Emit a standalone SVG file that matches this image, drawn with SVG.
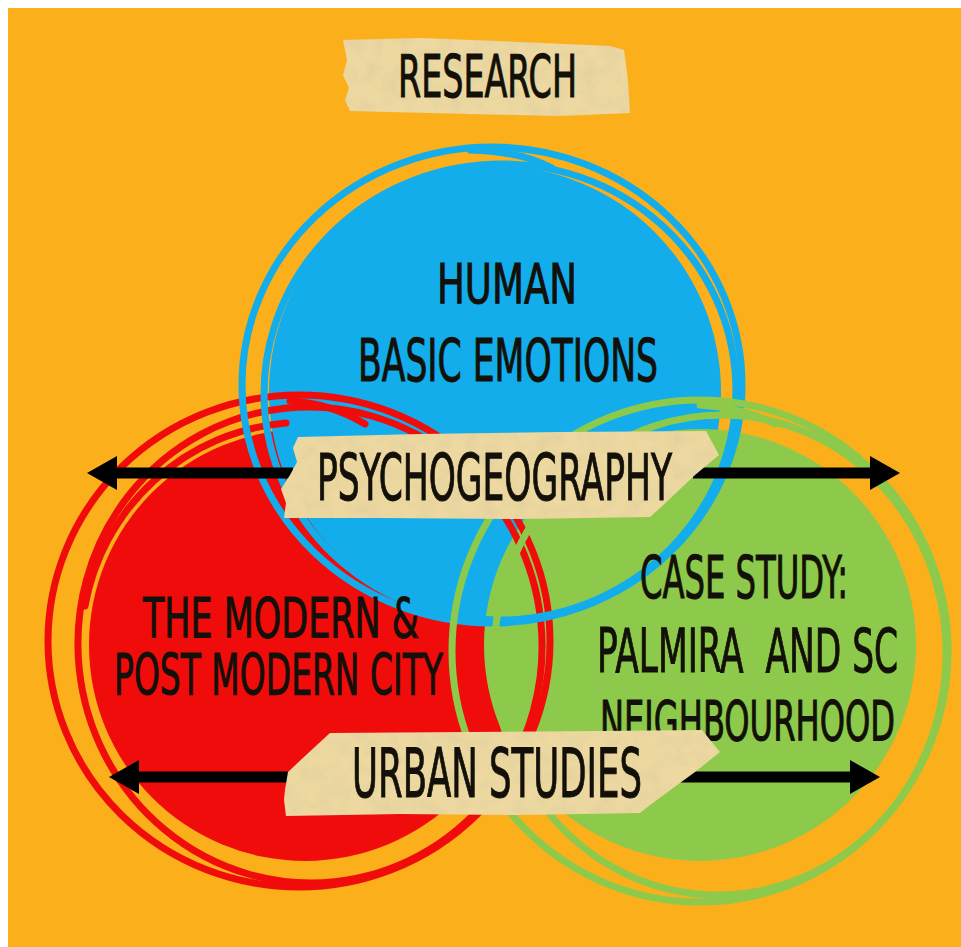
<svg xmlns="http://www.w3.org/2000/svg" width="961" height="947" viewBox="0 0 961 947">
  <defs>
    <style>
      .page{fill:#FFFFFF}
      .bg{fill:#FBAF1B}
      .ring{fill:none;stroke-width:7;stroke-linecap:round}
      .red{stroke:#F10C0C}
      .blue{stroke:#12ADEA}
      .green{stroke:#8DCA4C}
      .tape{fill:#ECD8A0;filter:url(#paper)}
      .lbl{font-family:"Liberation Sans Narrow","DejaVu Sans Condensed","Liberation Sans",sans-serif;fill:#121008;stroke:#121008;stroke-width:1;white-space:pre}
      .shaft{stroke:#000;stroke-width:11;fill:none;marker-end:url(#head)}
    </style>
    <marker id="head" markerUnits="userSpaceOnUse" markerWidth="32" markerHeight="36" refX="10" refY="17" orient="auto">
      <path d="M0,0 L30,17 L0,34 Z" fill="#000"/>
    </marker>
    <filter id="paper" x="-5%" y="-5%" width="110%" height="110%">
      <feTurbulence type="fractalNoise" baseFrequency="0.06" numOctaves="3" seed="7" result="noise"/>
      <feColorMatrix in="noise" type="matrix" values="0 0 0 0 0.62  0 0 0 0 0.52  0 0 0 0 0.32  0.7 0 0 0 -0.3" result="spots"/>
      <feComposite in="spots" in2="SourceGraphic" operator="in" result="grain"/>
      <feMerge><feMergeNode in="SourceGraphic"/><feMergeNode in="grain"/></feMerge>
    </filter>
  </defs>

  <!-- page and background -->
  <rect class="page" x="0" y="0" width="961" height="947"/>
  <rect class="bg" x="8" y="8" width="953" height="939"/>

  <!-- filled discs -->
  <g id="disc-fills">
    <circle cx="305" cy="645" r="216" fill="#F10C0C"/>
    <circle cx="495" cy="392" r="226" fill="#12ADEA"/>
    <circle cx="700" cy="645" r="216" fill="#8DCA4C"/>
  </g>

  <!-- sketched outlines -->
  <g id="ring-red">
    <ellipse class="ring red" cx="299" cy="641" rx="251" ry="246"/>
    <ellipse class="ring red" cx="310" cy="645" rx="232" ry="238" transform="rotate(-6 310 645)"/>
    <path class="ring red" d="M85,606 A223,223 0 0 1 286,423"/>
    <path class="ring red" d="M290,401 Q330,403 365,424"/>
  </g>
  <g id="ring-blue">
    <ellipse class="ring blue" cx="492" cy="385" rx="250" ry="238"/>
    <ellipse class="ring blue" cx="500" cy="392" rx="236" ry="228" transform="rotate(-5 500 392)"/>
    <path class="ring blue" d="M470,150 Q520,151 552,168"/>
  </g>
  <g id="ring-green">
    <ellipse class="ring green" cx="700" cy="651" rx="248" ry="251"/>
    <ellipse class="ring green" cx="720" cy="655" rx="226" ry="240" transform="rotate(4 720 655)"/>
    <path class="ring green" d="M700,405 Q745,408 775,424"/>
  </g>

  <!-- circle labels -->
  <g id="node-emotions">
    <text class="lbl" x="437" y="303" font-size="55" textLength="140" lengthAdjust="spacingAndGlyphs">HUMAN</text>
    <text class="lbl" x="358" y="381" font-size="59" textLength="300" lengthAdjust="spacingAndGlyphs">BASIC EMOTIONS</text>
  </g>
  <g id="node-city">
    <text class="lbl" x="143" y="637" font-size="55" textLength="276" lengthAdjust="spacingAndGlyphs">THE MODERN &amp;</text>
    <text class="lbl" x="114" y="695" font-size="57" textLength="329" lengthAdjust="spacingAndGlyphs">POST MODERN CITY</text>
  </g>
  <g id="node-case">
    <text class="lbl" x="640" y="598" font-size="59" textLength="208" lengthAdjust="spacingAndGlyphs">CASE STUDY:</text>
    <text class="lbl" x="597" y="672" font-size="61" textLength="301" lengthAdjust="spacingAndGlyphs">PALMIRA  AND SC</text>
    <text class="lbl" x="600" y="740" font-size="55" textLength="295" lengthAdjust="spacingAndGlyphs">NEIGHBOURHOOD</text>
  </g>

  <!-- arrows -->
  <g id="connectors">
    <line class="shaft" x1="293" y1="473" x2="107" y2="473"/>
    <line class="shaft" x1="693" y1="473" x2="880" y2="473"/>
    <line class="shaft" x1="295" y1="777" x2="129" y2="777"/>
    <line class="shaft" x1="680" y1="777" x2="860" y2="777"/>
  </g>

  <!-- tape labels -->
  <g id="node-research">
    <path class="tape" d="M343,40 L420,38 L520,42 L610,46 L624,50 L628,80 L630,113 L560,116 L470,114 L350,111 L345,100 L349,88 L343,75 L347,60 Z"/>
    <text class="lbl" x="398" y="97" font-size="59" textLength="179" lengthAdjust="spacingAndGlyphs">RESEARCH</text>
  </g>
  <g id="node-psychogeography">
    <path class="tape" d="M298,437 L420,434 L560,432 L706,431 L719,455 L695,475 L660,508 L650,517 L520,519 L380,518 L284,518 L286,503 L281,489 L290,475 L297,462 L293,448 Z"/>
    <text class="lbl" x="317" y="500" font-size="64" textLength="355" lengthAdjust="spacingAndGlyphs">PSYCHOGEOGRAPHY</text>
  </g>
  <g id="node-urban">
    <path class="tape" d="M330,733 L470,732 L600,731 L702,730 L720,752 L695,772 L650,805 L640,813 L520,815 L400,814 L286,816 L284,800 L285,790 L288,772 L305,756 Z"/>
    <text class="lbl" x="352" y="797" font-size="68" textLength="290" lengthAdjust="spacingAndGlyphs">URBAN STUDIES</text>
  </g>
</svg>
